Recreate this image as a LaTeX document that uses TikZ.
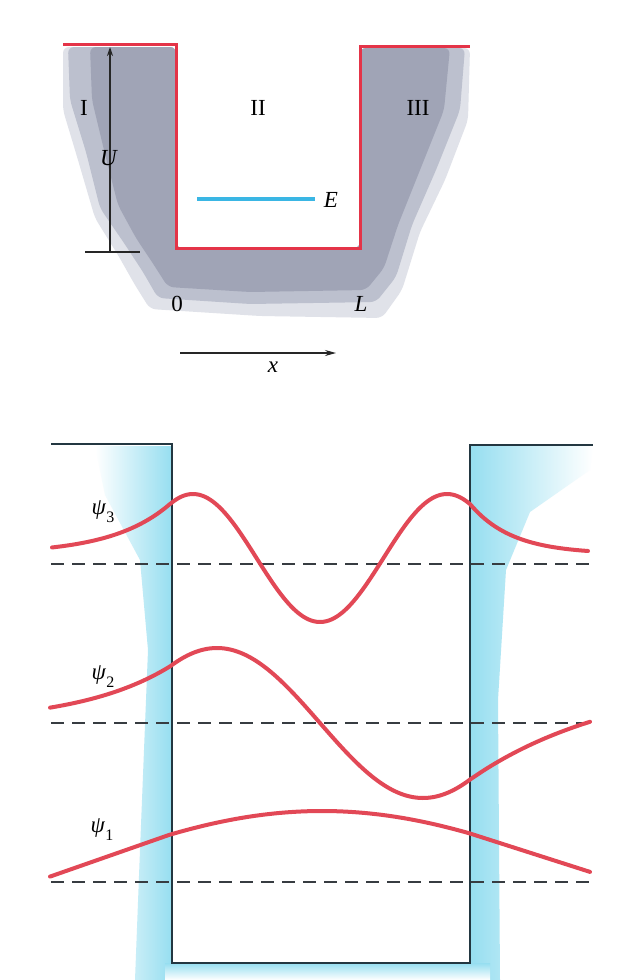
\documentclass[tikz,border=0pt]{standalone}
\usepackage{fontspec}
\setmainfont{Liberation Serif}
\usetikzlibrary{arrows.meta}
\definecolor{wellred}{RGB}{228,52,72}
\definecolor{psired}{RGB}{226,72,86}
\definecolor{eblue}{RGB}{58,182,228}
\definecolor{grayA}{RGB}{224,226,233}
\definecolor{grayB}{RGB}{188,192,206}
\definecolor{grayC}{RGB}{160,164,182}
\definecolor{cyanS}{RGB}{150,222,240}
\definecolor{wallc}{RGB}{35,55,65}
\definecolor{dashc}{RGB}{55,60,65}
\tikzset{
  lbl/.style={inner sep=0pt, font=\fontsize{23}{27}\selectfont},
  wellline/.style={draw=wellred, line width=3pt, line join=miter},
  psi/.style={draw=psired, line width=4pt, line cap=round, line join=round},
  wall/.style={draw=wallc, line width=1.6pt},
  base/.style={draw=dashc, line width=1.5pt, dash pattern=on 13pt off 8pt},
  axis/.style={draw=black!85, line width=1.2pt},
}
\newcommand{\psisub}[1]{\textit{ψ}\raisebox{-0.35em}{\fontsize{16}{16}\selectfont #1}}
\begin{document}
\begin{tikzpicture}[x=1pt,y=-1pt]
\useasboundingbox (0,0) rectangle (617,980);
\fill[white] (0,0) rectangle (617,980);
% ---------- top: potential well ----------
\fill[grayA, rounded corners=6pt] (63,47) -- (176,47) -- (176,248) -- (360,248) -- (360,48) -- (470,48)
  -- (468,120) -- (445,180) -- (420,232) -- (402,290) -- (382,318) -- (260,316)
  -- (150,309) -- (135,285) -- (118,255) -- (95,218) -- (78,160) -- (63,110) -- cycle;
\fill[grayB, rounded corners=6pt] (68,47) -- (176,47) -- (176,248) -- (360,248) -- (360,48) -- (465,48)
  -- (460,110) -- (436,170) -- (412,225) -- (396,277) -- (376,302) -- (250,304)
  -- (158,298) -- (143,272) -- (124,243) -- (100,208) -- (86,152) -- (70,100) -- cycle;
\fill[grayC, rounded corners=6pt] (90,47) -- (176,47) -- (176,248) -- (360,248) -- (360,48) -- (450,48)
  -- (444,110) -- (420,170) -- (398,225) -- (384,268) -- (366,290) -- (250,292)
  -- (168,287) -- (152,262) -- (136,238) -- (118,205) -- (104,150) -- (92,100) -- cycle;
\draw[wellline] (63,44) -- (176,44) -- (176,248) -- (360,248) -- (360,46) -- (470,46);
\draw[draw=eblue, line width=4pt] (197,199) -- (315,199);
\coordinate (ubot) at (110,252);
\coordinate (utop) at (110,47);
\coordinate (tickL) at (85,252);
\coordinate (tickR) at (140,252);
\draw[axis] (tickL) -- (tickR);
\draw[axis, -{Stealth[length=9pt,width=6pt]}] (ubot) -- (utop);
\coordinate (xs) at (180,353);
\coordinate (xe) at (336,353);
\draw[axis, -{Stealth[length=11pt,width=6pt]}] (xs) -- (xe);
\node[lbl] (rI) at (84,108) {I};
\node[lbl] (rII) at (258,108) {II};
\node[lbl] (rIII) at (418,108) {III};
\node[lbl] (U) at (109,158) {\textit{U}};
\node[lbl] (E) at (331,200) {\textit{E}};
\node[lbl] (zero) at (177,304) {0};
\node[lbl] (L) at (361,304) {\textit{L}};
\node[lbl] (x) at (273,367) {\textit{x}};
% ---------- bottom: wave functions ----------
\shade[left color=white, right color=cyanS] (95,446) -- (172,446) -- (172,980) -- (135,980)
  -- (140,850) -- (148,650) -- (140,560) -- (105,495) -- cycle;
\shade[left color=cyanS, right color=white] (470,446) -- (593,446) -- (590,470) -- (530,512)
  -- (506,570) -- (498,700) -- (500,980) -- (470,980) -- cycle;
\shade[top color=cyanS, bottom color=white] (165,963) rectangle (490,980);
\draw[wall] (51,444) -- (172,444) -- (172,963) -- (470,963) -- (470,445) -- (593,445);
\draw[base] (51,564) -- (592,564);
\draw[base] (51,723) -- (592,723);
\draw[base] (51,882) -- (592,882);
% psi_3
\draw[psi] plot[domain=52:170, samples=40] (\x, {564 - (10 + 50*exp(-(170-\x)/58))})
  -- plot[domain=170:470, samples=120] (\x, {564 - (6 - 64*cos((\x-320)*1.41732))})
  -- plot[domain=470:588, samples=40] (\x, {564 - (10 + 50*exp(-(\x-470)/42))});
% psi_2
\draw[psi] plot[domain=50:170, samples=40] (\x, {723 - 56.6*exp(-(170-\x)/92)})
  -- plot[domain=170:470, samples=120] (\x, {723 + 75*sin((\x-320)*0.873786)})
  -- plot[domain=470:590, samples=40] (\x, {723 - (-56.6 + 105*(1-exp(-(\x-470)/150)))});
% psi_1
\draw[psi] plot[domain=50:170, samples=30] (\x, {882 - (47.4 - 0.35*(170-\x))})
  -- plot[domain=170:470, samples=100] (\x, {882 - 71*cos((\x-322)*0.3169)})
  -- plot[domain=470:590, samples=30] (\x, {882 - (48.5 - 0.32*(\x-470))});
\node[lbl] (p3) at (103,512) {\psisub{3}};
\node[lbl] (p2) at (103,677) {\psisub{2}};
\node[lbl] (p1) at (102,830) {\psisub{1}};
\end{tikzpicture}
\end{document}
